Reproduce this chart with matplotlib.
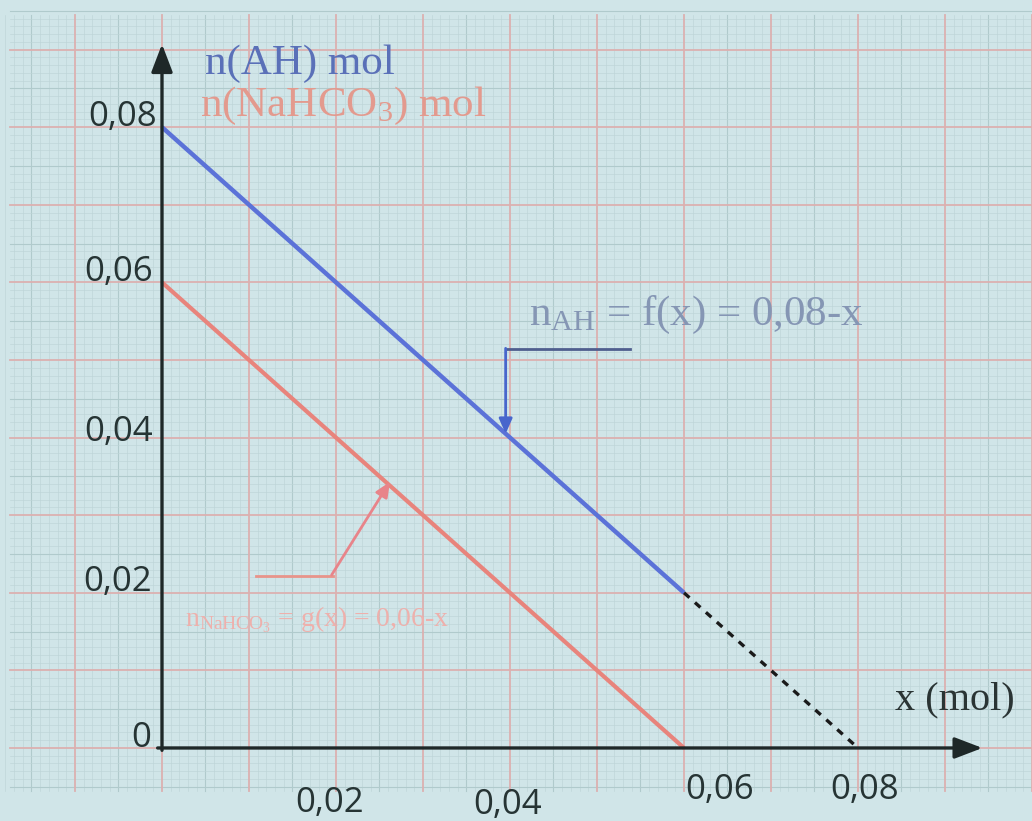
import numpy as np
import matplotlib
matplotlib.use("Agg")
import matplotlib.pyplot as plt

plt.rcParams['mathtext.fontset'] = 'custom'
plt.rcParams['mathtext.rm'] = 'Liberation Serif'
plt.rcParams['mathtext.it'] = 'Liberation Serif'

# data: n(AH) and n(NaHCO3) as a function of x (mol)
x_ah = [0.0, 0.06]
n_ah = [0.08, 0.02]
x_ah_ext = [0.06, 0.08]
n_ah_ext = [0.02, 0.0]
x_nahco3 = [0.0, 0.06]
n_nahco3 = [0.06, 0.0]

x_ticks = [0.02, 0.04, 0.06, 0.08]
x_tick_labels = ['0,02', '0,04', '0,06', '0,08']
y_ticks = [0.0, 0.02, 0.04, 0.06, 0.08]
y_tick_labels = ['0', '0,02', '0,04', '0,06', '0,08']

bg = '#d0e5e8'
fig = plt.figure(figsize=(10.32, 8.21), dpi=100, facecolor=bg)
ax = fig.add_axes([0, 0, 1, 1])
ax.set_facecolor(bg)
ax.set_xlim(-0.01862, 0.1)
ax.set_ylim(-0.00941, 0.09639)
ax.axis('off')

# graph paper
gx0, gx1 = -0.0175, 0.1
gy0, gy1 = -0.0055, 0.0945
for v in np.arange(-0.018, 0.1001, 0.001):
    major = abs(v / 0.01 - round(v / 0.01)) < 1e-6
    half = abs(v / 0.005 - round(v / 0.005)) < 1e-6
    if major:
        continue
    ax.plot([v, v], [gy0, gy1], color='#b0cacc' if half else '#bdd5d7',
            lw=0.8 if half else 0.45, zorder=1)
for v in np.arange(-0.005, 0.0951, 0.001):
    major = abs(v / 0.01 - round(v / 0.01)) < 1e-6
    half = abs(v / 0.005 - round(v / 0.005)) < 1e-6
    if major:
        continue
    ax.plot([gx0, gx1], [v, v], color='#b0cacc' if half else '#bdd5d7',
            lw=0.8 if half else 0.45, zorder=1)
for v in np.arange(-0.01, 0.1001, 0.01):
    ax.plot([v, v], [gy0, gy1], color='#dcb0b0', lw=1.3, zorder=2)
for v in np.arange(0.0, 0.0951, 0.01):
    ax.plot([gx0, gx1], [v, v], color='#dcb0b0', lw=1.3, zorder=2)

# axes with arrows
axis_color = '#1e2828'
ax.annotate('', xy=(0.0943, 0.0), xytext=(-0.0005, 0.0),
            arrowprops=dict(arrowstyle='-|>,head_length=1.7,head_width=0.65',
                            lw=2.4, color=axis_color, shrinkA=0, shrinkB=0), zorder=6)
ax.annotate('', xy=(0.0, 0.0907), xytext=(0.0, -0.0003),
            arrowprops=dict(arrowstyle='-|>,head_length=1.7,head_width=0.65',
                            lw=2.4, color=axis_color, shrinkA=0, shrinkB=0), zorder=6)

# lines
ax.plot(x_ah, n_ah, color='#5b72d8', lw=3.2, solid_capstyle='butt', zorder=5)
ax.plot(x_ah_ext, n_ah_ext, color='#1a1a1a', lw=2.4, dashes=(2.2, 2.2), zorder=5)
ax.plot(x_nahco3, n_nahco3, color='#e8847c', lw=3.0, solid_capstyle='butt', zorder=5)

# tick labels
tick_font = dict(family='Open Sans', fontsize=25, color='#263434', zorder=7)
y_offsets = [(-0.0012, 0.0013), (-0.0012, 0.0014), (-0.001, 0.0007),
             (-0.001, 0.0013), (-0.0006, 0.0013)]
for v, lab, (dx, dy) in zip(y_ticks, y_tick_labels, y_offsets):
    ax.text(dx, v + dy, lab, ha='right', va='center', **tick_font)
x_offsets = [(-0.0007, -0.0071), (-0.0003, -0.0073), (0.0041, -0.0054), (0.0008, -0.0054)]
for v, lab, (dx, dy) in zip(x_ticks, x_tick_labels, x_offsets):
    ax.text(v + dx, dy, lab, ha='center', va='center', **tick_font)

serif = 'Liberation Serif'
ax.text(0.0843, 0.0062, 'x (mol)', family=serif, fontsize=29, color='#2a3434',
        ha='left', va='center', zorder=7)
ax.text(0.0049, 0.0882, 'n(AH) mol', family=serif, fontsize=31, color='#5a70b8',
        ha='left', va='center', zorder=7)
ax.text(0.0044, 0.0827, r'n(NaHCO$_3$) mol', family=serif, fontsize=31,
        color='#e39a8e', ha='left', va='center', zorder=7)
ax.text(0.0422, 0.0558, r'n$_{AH}$ = f(x) = 0,08-x', family=serif, fontsize=31,
        color='#8596b4', ha='left', va='center', zorder=7)
ax.text(0.0027, 0.0165, r'n$_{NaHCO_3}$ = g(x) = 0,06-x', family=serif, fontsize=20,
        color='#eeb0ac', ha='left', va='center', zorder=7)

# pointers to the lines
ax.plot([0.0538, 0.0395], [0.0514, 0.0514], color='#4f5e8e', lw=2.0, zorder=6)
ax.annotate('', xy=(0.0395, 0.0405), xytext=(0.0395, 0.0515),
            arrowprops=dict(arrowstyle='-|>,head_length=0.9,head_width=0.4',
                            lw=2.0, color='#4866cc', shrinkA=0, shrinkB=0), zorder=6)
ax.plot([0.0108, 0.0196], [0.0222, 0.0222], color='#e8948a', lw=2.0, zorder=6)
ax.annotate('', xy=(0.0262, 0.0343), xytext=(0.0195, 0.0223),
            arrowprops=dict(arrowstyle='-|>,head_length=0.9,head_width=0.4',
                            lw=2.0, color='#e8848a', shrinkA=0, shrinkB=0), zorder=6)

fig.savefig('out.png', dpi=100, facecolor=bg)
